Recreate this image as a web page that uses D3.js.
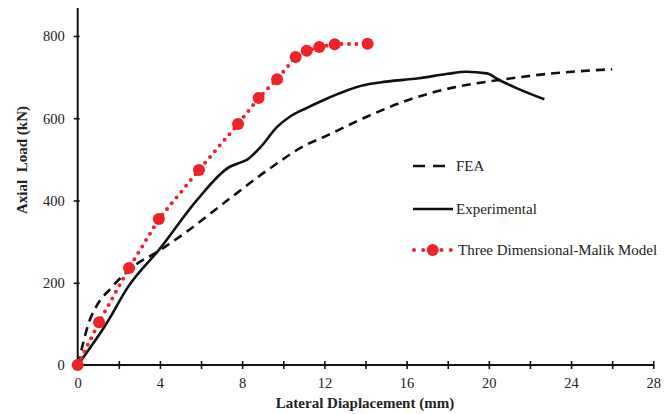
<!DOCTYPE html>
<html>
<head>
<meta charset="utf-8">
<script src="https://cdn.jsdelivr.net/npm/d3@7"></script>
<style>
  html, body { margin: 0; padding: 0; background: #fff; }
  svg { display: block; }
</style>
</head>
<body>
<script>
// Lateral displacement (mm) vs axial load (kN)
const feaX = [0, 0.2, 0.5, 0.9, 1.6, 2.7, 4.0, 5.3, 7.3, 9.35, 11.1, 12.0, 13.9, 16.3, 18.3, 20.5, 23.3, 26.0];
const feaY = [0, 40, 97, 142, 186, 239, 279, 324, 401, 478, 535, 555, 600, 648, 675, 693, 710, 719];

const expX = [0, 1.4, 2.45, 4.0, 5.8, 7.4, 7.9, 8.2, 8.9, 9.7, 10.3, 11.1, 12.0, 13.9, 14.7, 16.6, 18.0, 18.9, 19.9, 20.5, 21.4, 22.7];
const expY = [0, 101, 190, 283, 401, 482, 492, 498, 530, 579, 603, 624, 645, 680, 687, 697, 708, 713, 709, 693, 672, 646];

const malikX = [0, 1.04, 2.5, 3.95, 5.9, 7.8, 8.8, 9.7, 10.6, 11.14, 11.75, 12.5, 14.1];
const malikY = [0, 104, 236, 355, 474, 586, 649, 695, 749, 764, 773, 780, 781];

const xTicks = [0, 2, 4, 6, 8, 10, 12, 14, 16, 18, 20, 22, 24, 26, 28];
const xTickLabels = [0, 4, 8, 12, 16, 20, 24, 28];
const yTicks = [0, 200, 400, 600, 800];

const seriesNames = ["FEA", "Experimental", "Three Dimensional-Malik Model"];
const red = "#ee2227";
const ink = "#222";
const FONT = "'Liberation Serif', 'Times New Roman', 'DejaVu Serif', serif";

const W = 670, H = 414;
const svg = d3.select("body").append("svg").attr("width", W).attr("height", H)
  .attr("font-family", FONT);

const x = d3.scaleLinear().domain([0, 28]).range([77.7, 653.3]);
const y = d3.scaleLinear().domain([0, 868]).range([365, 8]);

const zip = (xs, ys) => xs.map((v, i) => [v, ys[i]]);

// Axis lines
const axisG = svg.append("g");
axisG.append("line").attr("x1", x(0)).attr("x2", x(0)).attr("y1", y(868)).attr("y2", y(0))
  .attr("stroke", "#111").attr("stroke-width", 2);
axisG.append("line").attr("x1", x(0)).attr("x2", x(28)).attr("y1", y(0)).attr("y2", y(0))
  .attr("stroke", "#111").attr("stroke-width", 2);

// X ticks (every 2 mm, labelled every 4 mm)
const xAxis = d3.axisBottom(x).tickValues(xTicks).tickSize(0).tickFormat("");
const xg = svg.append("g").attr("transform", `translate(0,${y(0)})`).call(xAxis)
  .attr("font-family", FONT);
xg.select(".domain").remove();
xg.selectAll(".tick line").remove();
xg.selectAll(".tick").append("line")
  .attr("y1", -4).attr("y2", 4).attr("stroke", "#111").attr("stroke-width", 1.6);
xg.selectAll(".tick").filter(d => xTickLabels.includes(d)).append("text")
  .attr("y", 23).attr("text-anchor", "middle").attr("font-size", 14.5).attr("fill", ink).text(d => d);

// Y ticks
const yAxis = d3.axisLeft(y).tickValues(yTicks).tickSize(0).tickFormat("");
const yg = svg.append("g").attr("transform", `translate(${x(0)},0)`).call(yAxis)
  .attr("font-family", FONT);
yg.select(".domain").remove();
yg.selectAll(".tick line").remove();
yg.selectAll(".tick").append("line")
  .attr("x1", -4).attr("x2", 2).attr("stroke", "#111").attr("stroke-width", 1.6);
yg.selectAll(".tick").append("text")
  .attr("x", -13).attr("dy", "0.34em").attr("text-anchor", "end").attr("font-size", 14.5).attr("fill", ink).text(d => d);

// Axis titles
svg.append("text").attr("x", 365).attr("y", 408).attr("text-anchor", "middle")
  .attr("font-size", 15).attr("font-weight", "bold").attr("fill", ink).text("Lateral Diaplacement (mm)");
svg.append("text").attr("transform", "translate(27,160) rotate(-90)").attr("text-anchor", "middle")
  .attr("font-size", 15).attr("font-weight", "bold").attr("fill", ink).style("white-space", "pre")
  .text("Axial  Load (kN)");

// Series
const smooth = d3.line().x(d => x(d[0])).y(d => y(d[1])).curve(d3.curveMonotoneX);
const straight = d3.line().x(d => x(d[0])).y(d => y(d[1]));

svg.append("path").datum(zip(feaX, feaY)).attr("d", smooth)
  .attr("fill", "none").attr("stroke", "#111").attr("stroke-width", 2.6).attr("stroke-dasharray", "9,6");

svg.append("path").datum(zip(expX, expY)).attr("d", smooth)
  .attr("fill", "none").attr("stroke", "#111").attr("stroke-width", 2.6);

svg.append("path").datum(zip(malikX, malikY)).attr("d", straight)
  .attr("fill", "none").attr("stroke", red).attr("stroke-width", 4)
  .attr("stroke-linecap", "round").attr("stroke-dasharray", "0,7.5");

svg.append("g").selectAll("circle").data(zip(malikX, malikY)).join("circle")
  .attr("cx", d => x(d[0])).attr("cy", d => y(d[1])).attr("r", 6).attr("fill", red);

// Legend
const lg = svg.append("g");
lg.append("line").attr("x1", 413).attr("x2", 446).attr("y1", 166).attr("y2", 166)
  .attr("stroke", "#111").attr("stroke-width", 2.6).attr("stroke-dasharray", "12,8");
lg.append("text").attr("x", 456).attr("y", 171).attr("font-size", 15).attr("fill", ink).text(seriesNames[0]);

lg.append("line").attr("x1", 413).attr("x2", 453).attr("y1", 209).attr("y2", 209)
  .attr("stroke", "#111").attr("stroke-width", 2.6);
lg.append("text").attr("x", 456).attr("y", 214).attr("font-size", 15).attr("fill", ink).text(seriesNames[1]);

lg.append("line").attr("x1", 414).attr("x2", 451).attr("y1", 250).attr("y2", 250)
  .attr("stroke", red).attr("stroke-width", 4).attr("stroke-linecap", "round").attr("stroke-dasharray", "0,9.2");
lg.append("circle").attr("cx", 432.7).attr("cy", 250).attr("r", 6).attr("fill", red);
lg.append("text").attr("x", 458).attr("y", 255).attr("font-size", 15).attr("fill", ink).text(seriesNames[2]);
</script>
</body>
</html>
